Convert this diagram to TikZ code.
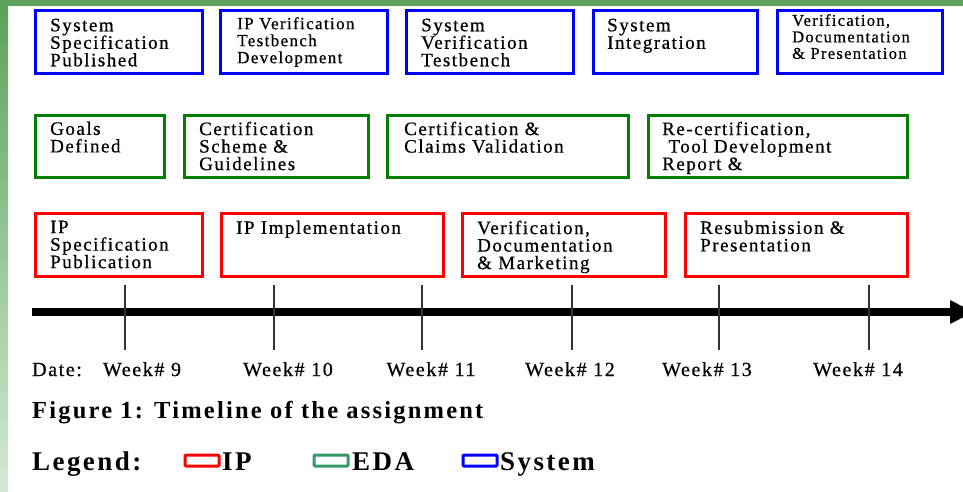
\documentclass[tikz,border=0pt]{standalone}
\usepackage{fontspec}
\setmainfont{Liberation Serif}[LetterSpace=9]
\newfontfamily\boxfont{Liberation Serif}[LetterSpace=8, FakeBold=0.6]
\usepackage{xcolor}
\usetikzlibrary{arrows.meta,positioning,calc}

\definecolor{sysblue}{RGB}{0,0,255}
\definecolor{edagreen}{RGB}{0,128,0}
\definecolor{ipred}{RGB}{255,0,0}
\definecolor{legendgreen}{RGB}{51,153,102}
\definecolor{bargreen}{RGB}{92,162,92}
\definecolor{paleg}{RGB}{212,233,212}

\begin{document}
\begin{tikzpicture}[
    x=1pt, y=-1pt,
    box/.style={draw, line width=3pt, inner sep=0pt, anchor=north west},
    sysbox/.style={box, draw=sysblue, minimum height=63pt},
    edabox/.style={box, draw=edagreen, minimum height=62pt},
    ipbox/.style={box, draw=ipred, minimum height=63pt},
    boxtext/.style={inner sep=0pt, align=left, font=\boxfont\fontsize{19}{17.5}\selectfont},
    smalltext/.style={inner sep=0pt, align=left, font=\boxfont\fontsize{17}{17}\selectfont},
    tinytext/.style={inner sep=0pt, align=left, font=\boxfont\fontsize{16.5}{16.5}\selectfont},
    tick/.style={draw=black!80, line width=1.2pt},
    week/.style={anchor=base, inner sep=0pt, font=\boxfont\fontsize{20}{20}\selectfont},
    legbox/.style={draw, line width=3pt, inner sep=0pt, minimum width=34pt, minimum height=11pt, rounded corners=1pt, anchor=north west},
    legtext/.style={anchor=base west, inner sep=0pt, font=\fontsize{27}{27}\selectfont\bfseries}
]
\useasboundingbox (0,0) rectangle (963,491);

% Frame of the slide
\fill[white] (0,0) rectangle (963,491);
\fill[bargreen] (0,0) rectangle (963,6);
\shade[top color=bargreen, bottom color=paleg] (0,6) rectangle (8,491);

% System row
\node[sysbox, minimum width=167pt] (sys1) at (33.5,8.5) {};
\node[sysbox, minimum width=167pt] (sys2) at (218.5,8.5) {};
\node[sysbox, minimum width=167pt] (sys3) at (404.5,8.5) {};
\node[sysbox, minimum width=164pt] (sys4) at (591.5,8.5) {};
\node[sysbox, minimum width=165pt] (sys5) at (775.5,8.5) {};

\node[boxtext, below right=10pt and 16.5pt of sys1.north west] (sys1t) {System\\Specification\\Published};
\node[smalltext, below right=8.5pt and 18.5pt of sys2.north west] (sys2t) {IP Verification\\Testbench\\Development};
\node[boxtext, below right=10pt and 16.5pt of sys3.north west] (sys3t) {System\\Verification\\Testbench};
\node[boxtext, below right=10pt and 15.5pt of sys4.north west] (sys4t) {System\\Integration};
\node[tinytext, below right=5.5pt and 16.5pt of sys5.north west] (sys5t) {Verification,\\Documentation\\\&~Presentation};

% EDA row
\node[edabox, minimum width=129pt] (eda1) at (33.5,113.5) {};
\node[edabox, minimum width=184pt] (eda2) at (182.5,113.5) {};
\node[edabox, minimum width=241pt] (eda3) at (385.5,113.5) {};
\node[edabox, minimum width=259pt] (eda4) at (646.5,113.5) {};

\node[boxtext, below right=8pt and 16.5pt of eda1.north west] (eda1t) {Goals\\Defined};
\node[boxtext, below right=8pt and 16.5pt of eda2.north west] (eda2t) {Certification\\Scheme \&\\Guidelines};
\node[boxtext, below right=8pt and 18.5pt of eda3.north west] (eda3t) {Certification \&\\Claims Validation};
\node[boxtext, below right=8pt and 15.5pt of eda4.north west] (eda4t) {Re-certification,\\\ Tool Development\\Report \&};

% IP row
\node[ipbox, minimum width=167pt] (ip1) at (33.5,211.5) {};
\node[ipbox, minimum width=222pt] (ip2) at (219.5,211.5) {};
\node[ipbox, minimum width=203pt] (ip3) at (460.5,211.5) {};
\node[ipbox, minimum width=222pt] (ip4) at (683.5,211.5) {};

\node[boxtext, below right=9pt and 16.5pt of ip1.north west] (ip1t) {IP\\Specification\\Publication};
\node[boxtext, below right=9pt and 16.5pt of ip2.north west] (ip2t) {IP Implementation};
\node[boxtext, below right=9pt and 16.5pt of ip3.north west] (ip3t) {Verification,\\Documentation\\\&~Marketing};
\node[boxtext, below right=9pt and 16.5pt of ip4.north west] (ip4t) {Resubmission \&\\Presentation};

% Time axis
\coordinate (tstart) at (32,312);
\coordinate (tend) at (974,312);
\draw[line width=8pt, -{Triangle[length=24pt,width=22pt]}] (tstart) -- (tend);

\foreach \x [count=\i] in {125,274,422,572,719,869} {
    \coordinate (t\i a) at (\x,285);
    \coordinate (t\i b) at (\x,350);
    \draw[tick] (t\i a) -- (t\i b);
}

% Dates
\node[week, anchor=base west] (date) at (32,376) {Date:};
\node[week] (w9) at (142,376) {Week\# 9};
\node[week] (w10) at (288,376) {Week\# 10};
\node[week] (w11) at (431,376) {Week\# 11};
\node[week] (w12) at (570,376) {Week\# 12};
\node[week] (w13) at (707,376) {Week\# 13};
\node[week] (w14) at (858,376) {Week\# 14};

% Caption
\node[anchor=base west, inner sep=0pt, font=\fontsize{24.5}{24.5}\selectfont\bfseries] (cap) at (32,418) {Figure 1: Timeline of the assignment};

% Legend
\node[legtext] (leg) at (32,470) {Legend:};
\node[legbox, draw=ipred] (legip) at (183.5,453.5) {};
\node[legtext] (legipl) at (222,470) {IP};
\node[legbox, draw=legendgreen] (legeda) at (312.5,453.5) {};
\node[legtext] (legedal) at (352,470) {EDA};
\node[legbox, draw=sysblue] (legsys) at (461.5,453.5) {};
\node[legtext] (legsysl) at (500,470) {System};

\end{tikzpicture}
\end{document}
